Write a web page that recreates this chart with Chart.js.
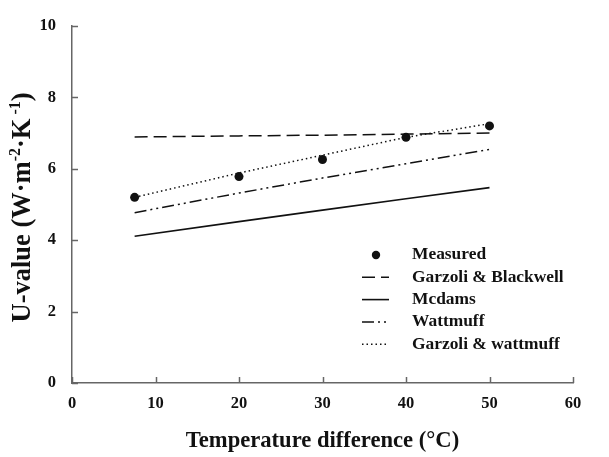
<!DOCTYPE html>
<html><head><meta charset="utf-8">
<script src="https://cdn.jsdelivr.net/npm/chart.js@4.4.1/dist/chart.umd.min.js"></script>
<style>html,body{margin:0;padding:0;background:#fff;} #wrap{width:609px;height:457px;position:relative;}</style>
</head><body><div id="wrap"><canvas id="c" width="609" height="457"></canvas></div>
<script>
// ---- data ----
const temperatures = [7.5, 20, 30, 40, 50];
const measured = [5.2, 5.78, 6.26, 6.88, 7.2];
const garzoliBlackwell = [6.89, 6.92, 6.94, 6.97, 7.0];
const mcdams = [4.11, 4.52, 4.84, 5.16, 5.47];
const wattmuff = [4.77, 5.32, 5.74, 6.14, 6.54];
const garzoliWattmuff = [5.2, 5.88, 6.38, 6.88, 7.26];
const seriesLabels = ['Measured', 'Garzoli & Blackwell', 'Mcdams', 'Wattmuff', 'Garzoli & wattmuff'];
const xTicks = [0, 10, 20, 30, 40, 50, 60];
const yTicks = [0, 2, 4, 6, 8, 10];
const xTitle = 'Temperature difference (°C)';
const yTitleParts = [['U-value (W·m', false], ['-2', true], ['·K', false], [' -1', true], [')', false]];

const FONT = '"Liberation Serif", "Times New Roman", serif';
const INK = '#111';
const AXIS = '#666';
const pts = arr => temperatures.map((t, i) => ({x: t, y: arr[i]}));

const datasets = [
  {label: seriesLabels[0], data: pts(measured), showLine: false, pointRadius: 4.5, pointBackgroundColor: INK, pointBorderColor: INK, pointBorderWidth: 0},
  {label: seriesLabels[1], data: pts(garzoliBlackwell), showLine: true, borderColor: INK, borderWidth: 1.5, borderDash: [13, 6], pointRadius: 0},
  {label: seriesLabels[2], data: pts(mcdams), showLine: true, borderColor: INK, borderWidth: 1.6, borderDash: [], pointRadius: 0},
  {label: seriesLabels[3], data: pts(wattmuff), showLine: true, borderColor: INK, borderWidth: 1.5, borderDash: [12, 4, 2, 4, 2, 4], pointRadius: 0},
  {label: seriesLabels[4], data: pts(garzoliWattmuff), showLine: true, borderColor: INK, borderWidth: 1.5, borderDash: [1.5, 3], pointRadius: 0}
];

const customDraw = {
  id: 'customDraw',
  afterDraw(chart) {
    const ctx = chart.ctx, xs = chart.scales.x, ys = chart.scales.y, ca = chart.chartArea;
    ctx.save();
    // inward ticks
    ctx.strokeStyle = AXIS; ctx.lineWidth = 1.5;
    xTicks.forEach(v => { const p = Math.round(xs.getPixelForValue(v)) + 0.5; ctx.beginPath(); ctx.moveTo(p, ca.bottom); ctx.lineTo(p, ca.bottom - 6); ctx.stroke(); });
    yTicks.forEach(v => { const p = Math.round(ys.getPixelForValue(v)) + 0.5; ctx.beginPath(); ctx.moveTo(ca.left, p); ctx.lineTo(ca.left + 6, p); ctx.stroke(); });
    // y title with superscripts
    const mainF = 'bold 26.5px ' + FONT, supF = 'bold 16px ' + FONT;
    let total = 0;
    yTitleParts.forEach(([t, s]) => { ctx.font = s ? supF : mainF; total += ctx.measureText(t).width; });
    ctx.translate(23, (ca.top + ca.bottom) / 2 + 3);
    ctx.rotate(-Math.PI / 2);
    ctx.fillStyle = INK; ctx.textBaseline = 'middle'; ctx.textAlign = 'left';
    let cx = -total / 2;
    yTitleParts.forEach(([t, s]) => { ctx.font = s ? supF : mainF; ctx.fillText(t, cx, s ? -7 : 0); cx += ctx.measureText(t).width; });
    ctx.restore();
    // legend
    ctx.save();
    const lx0 = 362, lx1 = 389, tx = 412, y0 = 255, dy = 22.3;
    chart.data.datasets.forEach((ds, i) => {
      const y = y0 + i * dy;
      ctx.strokeStyle = INK; ctx.fillStyle = INK;
      if (!ds.showLine) {
        ctx.beginPath(); ctx.arc((lx0 + lx1) / 2 + 0.5, y, 4.2, 0, Math.PI * 2); ctx.fill();
      } else {
        ctx.lineWidth = ds.borderWidth; ctx.setLineDash(ds.borderDash || []);
        ctx.beginPath(); ctx.moveTo(lx0, y); ctx.lineTo(lx1, y); ctx.stroke();
        ctx.setLineDash([]);
      }
      ctx.font = 'bold 17.4px ' + FONT; ctx.textBaseline = 'middle'; ctx.textAlign = 'left';
      ctx.fillText(ds.label, tx, y);
    });
    ctx.restore();
  }
};

new Chart(document.getElementById('c'), {
  type: 'scatter',
  data: {datasets},
  options: {
    responsive: false, devicePixelRatio: 1, animation: false,
    layout: {padding: {left: 0, top: 16, right: 36, bottom: 0}},
    plugins: {legend: {display: false}, tooltip: {enabled: false}},
    scales: {
      x: {
        type: 'linear', min: 0, max: 60,
        afterBuildTicks: s => { s.ticks = xTicks.map(v => ({value: v})); },
        afterFit: s => { s.height = 74; },
        grid: {display: false, drawTicks: false},
        border: {display: true, color: AXIS, width: 1.5},
        ticks: {font: {family: FONT, size: 16.5, weight: 'bold'}, color: INK, padding: 11, maxRotation: 0, autoSkip: false},
        title: {display: true, text: xTitle, font: {family: FONT, size: 22.6, weight: 'bold'}, color: INK, padding: {top: 0, bottom: 2}}
      },
      y: {
        type: 'linear', min: 0, max: 10,
        afterBuildTicks: s => { s.ticks = yTicks.map(v => ({value: v})); },
        afterFit: s => { s.width = 72; },
        grid: {display: false, drawTicks: false},
        border: {display: true, color: AXIS, width: 1.5},
        ticks: {font: {family: FONT, size: 16.5, weight: 'bold'}, color: INK, padding: 16, autoSkip: false},
        title: {display: false}
      }
    }
  },
  plugins: [customDraw]
});
</script>
</body></html>
